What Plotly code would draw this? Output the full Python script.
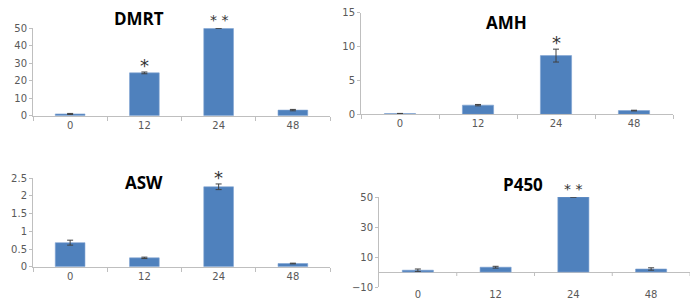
import plotly.graph_objects as go

categories = ["0", "12", "24", "48"]

dmrt_vals = [1.0, 24.5, 50.0, 3.2]
dmrt_err = [0.3, 0.5, 0.0, 0.4]
dmrt_sig = ["", "*", "* *", ""]

amh_vals = [0.1, 1.35, 8.65, 0.55]
amh_err = [0.03, 0.1, 0.95, 0.05]
amh_sig = ["", "", "*", ""]

asw_vals = [0.68, 0.25, 2.26, 0.09]
asw_err = [0.07, 0.02, 0.08, 0.01]
asw_sig = ["", "", "*", ""]

p450_vals = [1.2, 3.2, 50.0, 2.0]
p450_err = [0.8, 0.6, 0.0, 0.8]
p450_sig = ["", "", "* *", ""]

titles = ["DMRT", "AMH", "ASW", "P450"]

# page body has an 8px margin: figure placed at (8, 8) of the 700x299 window
OFF = 8
W, H = 700 - OFF, 299 - OFF
def px_x(a, b):
    return [(a - OFF) / W, (b - OFF) / W]
def px_y(top, bottom):
    return [(299 - bottom) / H, (299 - top) / H]

panels = [
    dict(vals=dmrt_vals, err=dmrt_err, sig=dmrt_sig, title=titles[0],
         xd=px_x(33, 330), yd=px_y(28.3, 115.7), yr=[0, 50], dtick=10, tick0=0,
         tpos=(139, 18.5)),
    dict(vals=amh_vals, err=amh_err, sig=amh_sig, title=titles[1],
         xd=px_x(361, 673), yd=px_y(12.5, 114.3), yr=[0, 15], dtick=5, tick0=0,
         tpos=(506, 22.5)),
    dict(vals=asw_vals, err=asw_err, sig=asw_sig, title=titles[2],
         xd=px_x(33, 330), yd=px_y(178.3, 266.7), yr=[0, 2.5], dtick=0.5, tick0=0,
         tpos=(144, 182)),
    dict(vals=p450_vals, err=p450_err, sig=p450_sig, title=titles[3],
         xd=px_x(379, 690), yd=px_y(197, 287), yr=[-10, 50], dtick=20, tick0=-10,
         tpos=(523, 184)),
]

BAR = "#4F81BD"
AX = "#BFBFBF"
TXT = "#595959"

fig = go.Figure()
annotations = []
shapes = []
for i, p in enumerate(panels):
    n = "" if i == 0 else str(i + 1)
    xa, ya = "x" + n, "y" + n
    fig.add_trace(go.Bar(
        x=categories, y=p["vals"], xaxis=xa, yaxis=ya,
        marker=dict(color=BAR, line=dict(color="#7FA3D1", width=0.6)),
        error_y=dict(type="data", array=p["err"], visible=True,
                     color="#404040", thickness=1, width=3),
        showlegend=False,
    ))
    is_p450 = i == 3
    fig.update_layout(**{
        "xaxis" + n: dict(
            domain=p["xd"], anchor=ya, type="category", automargin=False,
            showline=not is_p450, linecolor=AX, linewidth=1,
            ticks="" if is_p450 else "outside", tickson="boundaries",
            ticklen=4, tickcolor=AX, showgrid=False,
            ticklabeloverflow="allow",
            tickfont=dict(family="DejaVu Sans", size=10, color=TXT),
            range=[-0.5, len(categories) - 0.5], fixedrange=True,
        ),
        "yaxis" + n: dict(
            domain=p["yd"], anchor=xa, range=p["yr"], dtick=p["dtick"],
            tick0=p["tick0"], showline=True, linecolor=AX, linewidth=1,
            automargin=False, ticklabeloverflow="allow",
            ticks="outside", ticklen=3, tickcolor=AX, showgrid=False,
            zeroline=is_p450, zerolinecolor=AX, zerolinewidth=1,
            tickfont=dict(family="DejaVu Sans", size=10, color=TXT),
            fixedrange=True,
        ),
    })
    if is_p450:
        for k in range(len(categories)):
            shapes.append(dict(type="line", xref=xa, yref=ya,
                               x0=k + 0.5, x1=k + 0.5, y0=0, y1=-4,
                               ysizemode="pixel", yanchor=0,
                               line=dict(color=AX, width=1)))
    annotations.append(dict(
        text="<b>" + p["title"] + "</b>", xref="paper", yref="paper",
        x=(p["tpos"][0] - OFF) / W, y=(299 - p["tpos"][1]) / H,
        xanchor="center", yanchor="middle", showarrow=False, borderpad=0,
        font=dict(family="Open Sans", size=17, color="black"),
    ))
    for k, (v, e, s) in enumerate(zip(p["vals"], p["err"], p["sig"])):
        if s:
            single = s == "*"
            annotations.append(dict(
                text=s, xref=xa, yref=ya, x=k, y=v + e,
                xanchor="center", yanchor="bottom", showarrow=False,
                yshift=-6 if single else -2,
                font=dict(family="DejaVu Sans", size=18 if single else 14,
                          color="#333333"),
            ))

fig.update_layout(
    width=W, height=H, margin=dict(l=0, r=0, t=0, b=0),
    paper_bgcolor="white", plot_bgcolor="white",
    bargap=0.6, annotations=annotations, shapes=shapes,
)

fig.write_html("out.html")
